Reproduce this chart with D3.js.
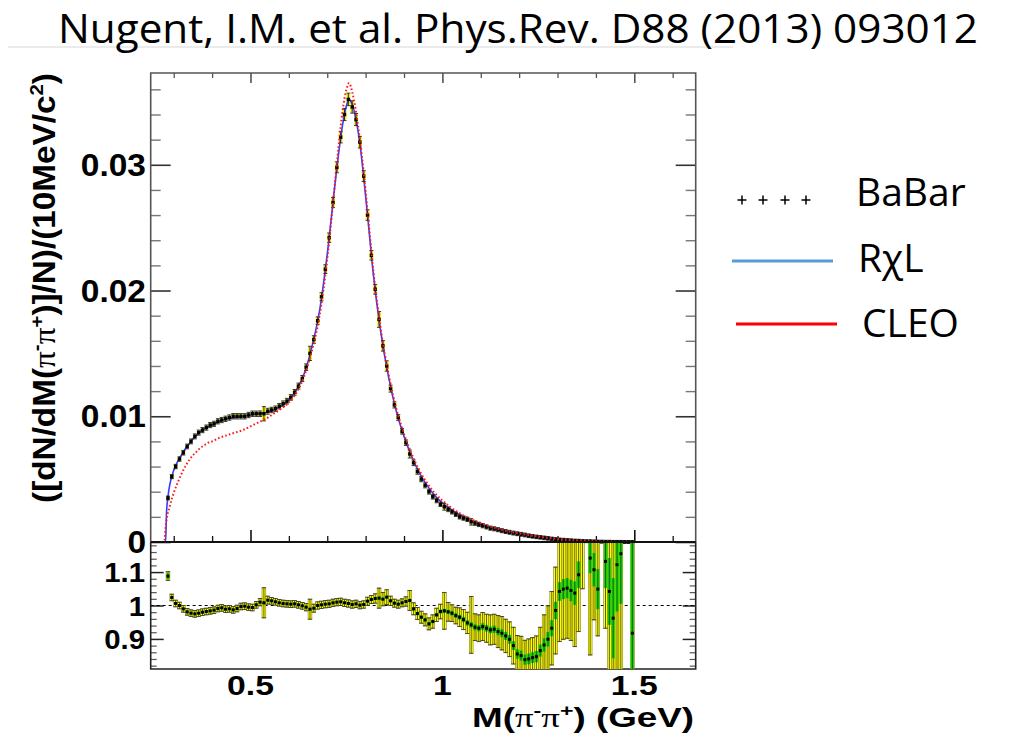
<!DOCTYPE html>
<html><head><meta charset="utf-8">
<script src="https://cdn.jsdelivr.net/npm/d3@7"></script>
<style>body{margin:0;background:#fff}</style>
</head><body><svg id="c" width="1010" height="737"></svg>
<script>
// ---------------- DATA ----------------
const titleText = "Nugent, I.M. et al. Phys.Rev. D88 (2013) 093012";
const massBins = [
0.285,0.295,0.305,0.315,0.325,0.335,0.345,0.355,0.365,0.375,
0.385,0.395,0.405,0.415,0.425,0.435,0.445,0.455,0.465,0.475,
0.485,0.495,0.505,0.515,0.525,0.535,0.545,0.555,0.565,0.575,
0.585,0.595,0.605,0.615,0.625,0.635,0.645,0.655,0.665,0.675,
0.685,0.695,0.705,0.715,0.725,0.735,0.745,0.755,0.765,0.775,
0.785,0.795,0.805,0.815,0.825,0.835,0.845,0.855,0.865,0.875,
0.885,0.895,0.905,0.915,0.925,0.935,0.945,0.955,0.965,0.975,
0.985,0.995,1.005,1.015,1.025,1.035,1.045,1.055,1.065,1.075,
1.085,1.095,1.105,1.115,1.125,1.135,1.145,1.155,1.165,1.175,
1.185,1.195,1.205,1.215,1.225,1.235,1.245,1.255,1.265,1.275,
1.285,1.295,1.305,1.315,1.325,1.335,1.345,1.355,1.365,1.375,
1.385,1.395,1.405,1.415,1.425,1.435,1.445,1.455,1.465,1.475,
1.485,1.495];
const babarValues = [
0.0035,0.0052,0.0060,0.0066,0.0071,0.0076,0.0080,0.0084,0.0087,0.0089,
0.0091,0.0093,0.0094,0.0096,0.0097,0.0098,0.0099,0.0100,0.0100,0.0100,
0.0100,0.0101,0.0102,0.0102,0.0102,0.0102,0.0104,0.0105,0.0106,0.0108,
0.0110,0.0112,0.0115,0.0119,0.0124,0.0130,0.0139,0.0150,0.0161,0.0176,
0.0195,0.0217,0.0242,0.0270,0.0298,0.0322,0.0340,0.0352,0.0346,0.0336,
0.0318,0.0291,0.0260,0.0228,0.0201,0.0177,0.0156,0.0140,0.0122,0.0109,
0.0099,0.0088,0.0079,0.0070,0.0063,0.0056,0.0050,0.0045,0.0040,0.0036,
0.0033,0.0030,0.0028,0.0026,0.0024,0.0022,0.0020,0.0019,0.0018,0.0016,
0.0015,0.0014,0.0013,0.0012,0.0011,0.00105,0.00098,0.0009,0.00083,0.00077,
0.00071,0.00066,0.00061,0.00056,0.0005,0.00045,0.00041,0.00037,0.00033,0.00029,
0.00025,0.00021,0.00018,0.00016,0.00014,0.00012,0.0001,0.00009,0.00007,0.00006,
0.00005,0.00004,0.00003,0.00003,0.00002,0.00002,0.00001,0.00001,0.00001,0.000005,
0.000005,0.000005];
const ratioValues = [
1.088,1.024,1.006,1.000,0.990,0.981,0.977,0.975,0.977,0.980,
0.982,0.984,0.986,0.991,0.993,0.989,0.990,0.987,0.991,0.997,
0.998,0.995,0.994,1.002,1.010,1.008,1.016,1.014,1.011,1.008,
1.006,1.005,1.004,1.005,1.002,0.999,0.995,0.989,0.992,1.000,
1.002,1.004,1.005,1.008,1.010,1.011,1.008,1.006,1.003,1.005,
1.001,1.003,1.013,1.018,1.021,1.022,1.019,1.025,1.014,1.007,
1.004,1.008,1.012,1.015,0.990,0.976,0.965,0.957,0.945,0.952,
0.972,0.982,0.984,0.981,0.977,0.970,0.965,0.958,0.948,0.942,
0.935,0.932,0.937,0.932,0.927,0.929,0.922,0.917,0.909,0.899,
0.880,0.855,0.850,0.838,0.840,0.844,0.847,0.865,0.882,0.899,
0.932,0.985,1.042,1.049,1.052,1.045,1.037,1.092,1.250,null,
1.142,1.107,1.049,null,1.132,1.042,0.962,1.122,1.155,null,
null,0.917];
const ratioTotalErr = [
0.013,0.010,0.010,0.010,0.010,0.010,0.010,0.010,0.010,0.010,
0.010,0.010,0.010,0.010,0.010,0.010,0.010,0.010,0.010,0.010,
0.010,0.010,0.010,0.010,0.011,0.045,0.012,0.010,0.010,0.010,
0.010,0.010,0.010,0.010,0.010,0.010,0.011,0.030,0.012,0.011,
0.011,0.011,0.011,0.011,0.011,0.011,0.011,0.011,0.011,0.011,
0.011,0.011,0.012,0.012,0.014,0.030,0.020,0.022,0.014,0.012,
0.012,0.012,0.014,0.030,0.018,0.018,0.018,0.018,0.018,0.020,
0.020,0.022,0.055,0.028,0.025,0.025,0.028,0.030,0.032,0.085,
0.040,0.040,0.042,0.042,0.045,0.045,0.048,0.050,0.050,0.052,
0.055,0.055,0.058,0.058,0.060,0.060,0.062,0.070,0.090,0.100,
0.110,0.130,0.150,0.150,0.150,0.150,0.160,0.170,0.200,null,
0.290,0.150,0.140,null,0.200,0.250,0.300,0.350,0.380,null,
null,0.500];
const ratioStatErr = [
0.008,0.003,0.003,0.003,0.003,0.003,0.003,0.003,0.003,0.003,
0.003,0.003,0.003,0.003,0.003,0.003,0.003,0.003,0.003,0.003,
0.003,0.003,0.003,0.003,0.003,0.004,0.003,0.003,0.003,0.003,
0.003,0.003,0.003,0.003,0.003,0.003,0.003,0.004,0.003,0.003,
0.003,0.003,0.003,0.003,0.003,0.003,0.003,0.003,0.003,0.003,
0.003,0.003,0.004,0.004,0.004,0.005,0.004,0.004,0.004,0.004,
0.004,0.004,0.004,0.005,0.005,0.005,0.005,0.005,0.005,0.005,
0.005,0.006,0.006,0.006,0.007,0.007,0.007,0.008,0.008,0.008,
0.009,0.009,0.010,0.010,0.010,0.011,0.011,0.012,0.012,0.013,
0.013,0.014,0.015,0.015,0.016,0.016,0.017,0.018,0.020,0.022,
0.024,0.026,0.028,0.030,0.030,0.032,0.035,0.040,0.060,null,
0.045,0.050,0.060,null,0.080,0.100,0.120,0.140,0.150,null,
null,0.300];
const rxlMass = [0.24,0.279,0.281,0.285,0.29,0.30,0.31,0.32,0.33,0.34,0.35,0.36,0.37,0.38,0.40,0.42,0.44,0.46,0.48,0.50,0.52,0.54,0.56,0.58,0.60,0.62,0.64,0.66,0.68,0.70,0.72,0.73,0.74,0.75,0.757,0.765,0.775,0.785,0.795,0.805,0.82,0.84,0.86,0.88,0.90,0.92,0.94,0.96,0.98,1.00,1.05,1.10,1.15,1.20,1.25,1.30,1.35,1.40,1.50,1.66];
const rxlValues = [0,0,0.0022,0.0036,0.0046,0.0057,0.0064,0.0069,0.0074,0.0078,0.0082,0.0085,0.0088,0.0090,0.0093,0.0096,0.0098,0.0099,0.0100,0.0101,0.0102,0.0103,0.0105,0.0108,0.0113,0.0121,0.0134,0.0155,0.0184,0.0229,0.0284,0.0310,0.0332,0.0347,0.0352,0.0348,0.0336,0.0317,0.0290,0.0260,0.0213,0.0166,0.0131,0.0104,0.0084,0.0068,0.0055,0.0045,0.0037,0.0031,0.0021,0.0014,0.00093,0.00064,0.0004,0.00022,0.00011,0.00005,0.00001,0];
const cleoMass = [0.24,0.275,0.28,0.29,0.30,0.31,0.32,0.33,0.34,0.35,0.36,0.37,0.38,0.39,0.40,0.42,0.44,0.46,0.48,0.50,0.52,0.54,0.56,0.58,0.60,0.62,0.64,0.66,0.68,0.70,0.72,0.73,0.74,0.75,0.757,0.765,0.775,0.785,0.795,0.805,0.82,0.84,0.86,0.88,0.90,0.92,0.94,0.96,0.98,1.00,1.05,1.10,1.15,1.20,1.25,1.30,1.35,1.40,1.50,1.66];
const cleoValues = [0,0,0.0015,0.0029,0.0039,0.0047,0.0054,0.0060,0.0065,0.0069,0.0072,0.0075,0.0077,0.0079,0.0080,0.0083,0.0085,0.0087,0.0089,0.0092,0.0095,0.0098,0.0102,0.0106,0.0111,0.0119,0.0132,0.0152,0.0180,0.0225,0.0285,0.0316,0.0343,0.0360,0.0365,0.0358,0.0342,0.0320,0.0294,0.0263,0.0216,0.0168,0.0133,0.0106,0.0086,0.0070,0.0057,0.0047,0.0039,0.0033,0.0022,0.0015,0.0010,0.00068,0.00043,0.00024,0.00012,0.00006,0.00001,0];
const yTopTicks = [0,0.01,0.02,0.03];
const yTopTickLabels = ["0","0.01","0.02","0.03"];
const ratioTicks = [0.9,1,1.1];
const ratioTickLabels = ["0.9","1","1.1"];
const xTicks = [0.5,1,1.5];
const xTickLabels = ["0.5","1","1.5"];
const legendLabels = ["BaBar","R\u03C7L","CLEO"];

// ---------------- CHART ----------------
const svg = d3.select("#c");
const L = 150.7, R = 695.7, T = 73, MID = 542, B = 669;
const x = d3.scaleLinear().domain([0.24,1.66]).range([L,R]);
const yT = d3.scaleLinear().domain([0,0.0373]).range([MID,T]);
const yR = d3.scaleLinear().domain([0.81,1.19]).range([B,MID]);
const bw = x(0.25)-x(0.24);
const FONT = "'Liberation Sans', Arial, sans-serif";

// title
svg.append("line").attr("x1",8).attr("x2",733).attr("y1",47).attr("y2",47)
  .attr("stroke","#e4e4e4").attr("stroke-width",1.5);
svg.append("text").attr("x",58).attr("y",43).text(titleText)
  .attr("font-family","'Open Sans', 'Noto Sans', sans-serif").attr("font-size",41)
  .attr("textLength",920).attr("lengthAdjust","spacingAndGlyphs").attr("fill","#000");

// ticks helper
function styleAxis(g, col, w){ g.select(".domain").remove(); g.selectAll("line").attr("stroke",col).attr("stroke-width",w); g.selectAll("text").remove(); }
const minorTop = d3.range(1,19).map(i=>i*0.002).filter((v,i)=>(i+1)%5!==0);
const minorX = d3.range(3,17).map(i=>i/10).filter(v=>Math.abs(v-0.5)>1e-6 && Math.abs(v-1)>1e-6 && Math.abs(v-1.5)>1e-6);
const minorR = d3.range(41,60).map(i=>i*0.02).filter(v=>v>0.81&&v<1.19&&Math.abs(v-0.9)>1e-6&&Math.abs(v-1)>1e-6&&Math.abs(v-1.1)>1e-6);

svg.append("g").attr("transform",`translate(${L},0)`).call(d3.axisRight(yT).tickValues(yTopTicks).tickSize(20)).call(g=>styleAxis(g,"#333",1.6));
svg.append("g").attr("transform",`translate(${L},0)`).call(d3.axisRight(yT).tickValues(minorTop).tickSize(10)).call(g=>styleAxis(g,"#777",1.4));
svg.append("g").attr("transform",`translate(${R},0)`).call(d3.axisLeft(yT).tickValues(yTopTicks).tickSize(20)).call(g=>styleAxis(g,"#333",1.6));
svg.append("g").attr("transform",`translate(${R},0)`).call(d3.axisLeft(yT).tickValues(minorTop).tickSize(10)).call(g=>styleAxis(g,"#777",1.4));
svg.append("g").attr("transform",`translate(0,${T})`).call(d3.axisBottom(x).tickValues(xTicks).tickSize(10)).call(g=>styleAxis(g,"#555",1.6));
svg.append("g").attr("transform",`translate(0,${T})`).call(d3.axisBottom(x).tickValues(minorX).tickSize(5)).call(g=>styleAxis(g,"#555",1.3));
svg.append("g").attr("transform",`translate(0,${MID})`).call(d3.axisTop(x).tickValues(xTicks).tickSize(12)).call(g=>styleAxis(g,"#111",1.6));
svg.append("g").attr("transform",`translate(0,${MID})`).call(d3.axisTop(x).tickValues(minorX).tickSize(6)).call(g=>styleAxis(g,"#111",1.3));
svg.append("g").attr("transform",`translate(${L},0)`).call(d3.axisRight(yR).tickValues(ratioTicks).tickSize(13)).call(g=>styleAxis(g,"#222",1.5));
svg.append("g").attr("transform",`translate(${L},0)`).call(d3.axisRight(yR).tickValues(minorR).tickSize(6)).call(g=>styleAxis(g,"#555",1.2));
svg.append("g").attr("transform",`translate(${R},0)`).call(d3.axisLeft(yR).tickValues(ratioTicks).tickSize(13)).call(g=>styleAxis(g,"#222",1.5));
svg.append("g").attr("transform",`translate(${R},0)`).call(d3.axisLeft(yR).tickValues(minorR).tickSize(6)).call(g=>styleAxis(g,"#555",1.2));

// frames
svg.append("path").attr("d",`M${L},${MID}V${T}H${R}V${MID}`).attr("fill","none").attr("stroke","#555").attr("stroke-width",1.6);
svg.append("path").attr("d",`M${L},${MID}V${B}H${R}V${MID}`).attr("fill","none").attr("stroke","#222").attr("stroke-width",1.6);

// tick labels (horizontal stretch like the reference image)
svg.append("g").selectAll("text").data(yTopTicks).join("text")
  .attr("transform",d=>`translate(146,${yT(d)}) scale(1.08,1)`).attr("dy","0.36em").attr("text-anchor","end")
  .attr("font-family",FONT).attr("font-weight","bold").attr("font-size",31)
  .text((d,i)=>yTopTickLabels[i]);
svg.append("g").selectAll("text").data(ratioTicks).join("text")
  .attr("transform",d=>`translate(145,${yR(d)}) scale(1.05,1)`).attr("dy","0.36em").attr("text-anchor","end")
  .attr("font-family",FONT).attr("font-weight","bold").attr("font-size",28)
  .text((d,i)=>ratioTickLabels[i]);
svg.append("g").selectAll("text").data(xTicks).join("text")
  .attr("transform",d=>`translate(${x(d)},695) scale(1.25,1)`).attr("text-anchor","middle")
  .attr("font-family",FONT).attr("font-weight","bold").attr("font-size",27)
  .text((d,i)=>xTickLabels[i]);

// axis titles
const xt = svg.append("text").attr("x",0).attr("y",0).attr("text-anchor","end")
  .attr("font-family",FONT).attr("font-weight","bold").attr("font-size",27);
xt.append("tspan").text("M(");
xt.append("tspan").text("\u03C0").attr("font-family","'Liberation Serif', serif").attr("font-weight","normal");
xt.append("tspan").text("-").attr("font-size",17).attr("dy",-11);
xt.append("tspan").text("\u03C0").attr("font-family","'Liberation Serif', serif").attr("font-weight","normal").attr("dy",11);
xt.append("tspan").text("+").attr("font-size",17).attr("dy",-11);
xt.append("tspan").text(") (GeV)").attr("dy",11);
const xtw = xt.node().getBBox().width;
xt.attr("transform",`translate(694,727) scale(${222/xtw},1)`);

const yt = svg.append("text").attr("x",0).attr("y",0).attr("text-anchor","middle")
  .attr("font-family",FONT).attr("font-weight","bold").attr("font-size",31);
yt.append("tspan").text("([dN/dM(");
yt.append("tspan").text("\u03C0").attr("font-family","'Liberation Serif', serif").attr("font-weight","normal");
yt.append("tspan").text("-").attr("font-size",19).attr("dy",-12);
yt.append("tspan").text("\u03C0").attr("font-family","'Liberation Serif', serif").attr("font-weight","normal").attr("dy",12);
yt.append("tspan").text("+").attr("font-size",19).attr("dy",-12);
yt.append("tspan").text(")]/N)/(10MeV/c").attr("dy",12);
yt.append("tspan").text("2").attr("font-size",19).attr("dy",-12);
yt.append("tspan").text(")").attr("dy",12);
const ytw = yt.node().getBBox().width;
yt.attr("transform",`translate(55,288) rotate(-90) scale(${430/ytw},1)`);

// ---- top panel data ----
const topPts = massBins.map((m,i)=>{
  const rel = ratioValues[i]!=null ? ratioTotalErr[i]/ratioValues[i] : 0.01;
  return {m, v: babarValues[i], e: babarValues[i]*rel};
});
const topG = svg.append("g");
topG.selectAll("rect.sys").data(topPts).join("rect")
  .attr("x",d=>x(d.m)-bw/2).attr("width",bw)
  .attr("y",d=>yT(d.v+d.e)-0.8).attr("height",d=>Math.max(1.6,yT(d.v-d.e)-yT(d.v+d.e)+1.6))
  .attr("fill","#f2f200");
topG.append("path").datum(rxlMass.map((m,i)=>[m,rxlValues[i]]))
  .attr("d",d3.line().x(d=>x(d[0])).y(d=>yT(d[1])).curve(d3.curveMonotoneX))
  .attr("fill","none").attr("stroke","#3b3bff").attr("stroke-width",1.6);
topG.selectAll("path.eb").data(topPts).join("path")
  .attr("d",d=>{const y1=yT(d.v+d.e)-1.4,y2=yT(d.v-d.e)+1.4,xc=x(d.m);return `M${xc},${y1}V${y2}M${xc-2},${y1}H${xc+2}M${xc-2},${y2}H${xc+2}`;})
  .attr("stroke","#222").attr("stroke-width",0.9).attr("fill","none");
topG.selectAll("rect.mk").data(topPts).join("rect")
  .attr("x",d=>x(d.m)-1.7).attr("y",d=>yT(d.v)-1.7).attr("width",3.4).attr("height",3.4).attr("fill","#000");
topG.append("path").datum(cleoMass.map((m,i)=>[m,cleoValues[i]]))
  .attr("d",d3.line().x(d=>x(d[0])).y(d=>yT(d[1])).curve(d3.curveMonotoneX))
  .attr("fill","none").attr("stroke","#ff1a1a").attr("stroke-width",2).attr("stroke-dasharray","1.6,2.2");

// ---- ratio panel ----
svg.append("clipPath").attr("id","rclip").append("rect").attr("x",L).attr("y",MID+1).attr("width",R-L).attr("height",B-MID-1);
const rG = svg.append("g").attr("clip-path","url(#rclip)");
rG.append("line").attr("x1",L).attr("x2",R).attr("y1",yR(1)).attr("y2",yR(1))
  .attr("stroke","#000").attr("stroke-width",1).attr("stroke-dasharray","3,3");
const rPts = massBins.map((m,i)=>({m,r:ratioValues[i],e:ratioTotalErr[i],s:ratioStatErr[i]})).filter(d=>d.r!=null);
rG.selectAll("rect.tot").data(rPts).join("rect")
  .attr("x",d=>x(d.m)-bw/2).attr("width",bw)
  .attr("y",d=>yR(d.r+d.e)).attr("height",d=>yR(d.r-d.e)-yR(d.r+d.e))
  .attr("fill","#ffff00").attr("stroke","#6a6a00").attr("stroke-width",0.5);
rG.selectAll("rect.st").data(rPts).join("rect")
  .attr("x",d=>x(d.m)-bw/2+0.3).attr("width",bw-0.6)
  .attr("y",d=>yR(d.r+d.s)).attr("height",d=>yR(d.r-d.s)-yR(d.r+d.s))
  .attr("fill","#00dd00");
rG.selectAll("path.eb").data(rPts).join("path")
  .attr("d",d=>{const y1=yR(d.r+d.e),y2=yR(d.r-d.e),xc=x(d.m);return `M${xc},${y1}V${y2}M${xc-2.2},${y1}H${xc+2.2}M${xc-2.2},${y2}H${xc+2.2}`;})
  .attr("stroke","#333").attr("stroke-width",0.8).attr("fill","none");
rG.selectAll("rect.mk").data(rPts).join("rect")
  .attr("x",d=>x(d.m)-1.5).attr("y",d=>yR(d.r)-1.5).attr("width",3).attr("height",3).attr("fill","#000");

// divider
svg.append("line").attr("x1",L).attr("x2",R).attr("y1",MID).attr("y2",MID).attr("stroke","#111").attr("stroke-width",2.2);

// ---- legend ----
const LF = "'Open Sans', 'Noto Sans', sans-serif";
const lg = svg.append("g");
lg.selectAll("path.plus").data([742,763,785,806]).join("path")
  .attr("d",d=>`M${d-4.5},200H${d+4.5}M${d},195.5V204.5`).attr("stroke","#000").attr("stroke-width",1.5);
lg.append("line").attr("x1",732).attr("x2",833).attr("y1",261).attr("y2",261).attr("stroke","#5b9bd5").attr("stroke-width",3);
lg.append("line").attr("x1",736).attr("x2",837).attr("y1",324).attr("y2",324).attr("stroke","#ff0000").attr("stroke-width",3);
const legPos = [[856,206],[858,272],[862,337]];
lg.selectAll("text").data(legendLabels).join("text")
  .attr("x",(d,i)=>legPos[i][0]).attr("y",(d,i)=>legPos[i][1])
  .attr("font-family",LF).attr("font-size",39).attr("fill","#000").text(d=>d);
</script></body></html>
